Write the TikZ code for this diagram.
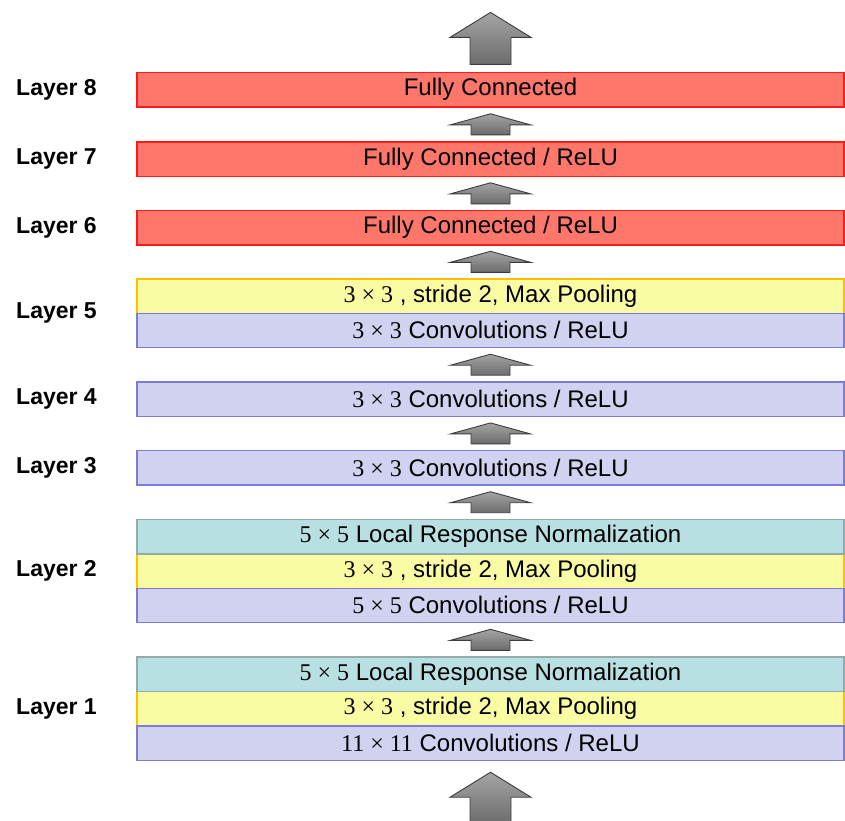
\documentclass[tikz,border=0pt]{standalone}
\usepackage{fontspec}
\setmainfont{Liberation Sans}
\newfontfamily\dimfont{Liberation Serif}
\usetikzlibrary{positioning,calc}

\definecolor{fcfill}{HTML}{FF766A}
\definecolor{fcline}{HTML}{FF1A1A}
\definecolor{poolfill}{HTML}{FAFCA4}
\definecolor{poolline}{HTML}{FFC000}
\definecolor{convfill}{HTML}{D0D2F0}
\definecolor{convline}{HTML}{7B7BD8}
\definecolor{normfill}{HTML}{B8E0E3}
\definecolor{normline}{HTML}{94ABAB}
\definecolor{arrowtop}{HTML}{A4A4A4}
\definecolor{arrowbot}{HTML}{6C6C6C}
\definecolor{arrowline}{HTML}{3C3C3C}

\newcommand{\dims}[1]{{\dimfont #1}}

\tikzset{
  layerbox/.style={draw, line width=1.4pt, minimum width=707pt, minimum height=34.4pt,
    inner sep=0pt, outer sep=0pt, font=\fontsize{24}{26}\selectfont},
  fcbox/.style={layerbox, draw=fcline, fill=fcfill},
  poolbox/.style={layerbox, draw=poolline, fill=poolfill},
  convbox/.style={layerbox, draw=convline, fill=convfill},
  normbox/.style={layerbox, draw=normline, fill=normfill},
  layerlabel/.style={font=\bfseries\fontsize{23}{25}\selectfont, inner sep=0pt},
  blockarrow/.style={draw=arrowline, line width=0.9pt, top color=arrowtop,
    bottom color=arrowbot, line join=miter},
  pics/smallarrow/.style={code={
    \path[blockarrow] (-19.5,10.5) -- (-19.5,0.5) -- (-40,0.5) -- (0,-10.5)
      -- (40,0.5) -- (19.5,0.5) -- (19.5,10.5) -- cycle;}},
  pics/bigarrow/.style={code={
    \path[blockarrow] (-20.5,0) -- (-20.5,-27) -- (-40.5,-27) -- (0,-52)
      -- (40.5,-27) -- (20.5,-27) -- (20.5,0) -- cycle;}},
}

\begin{document}
\begin{tikzpicture}[x=1pt,y=-1pt]
  \path[use as bounding box, clip] (0,0) rectangle (845,820);

  % Layer 1
  \node[poolbox] (l1y) at (490.5,708.6) {\dims{3 × 3} , stride 2, Max Pooling};
  \node[convbox, below=0pt of l1y] (l1b) {\dims{11 × 11} Convolutions / ReLU};
  \node[normbox, above=0pt of l1y] (l1t) {\dims{5 × 5} Local Response Normalization};

  % Layer 2
  \node[poolbox] (l2y) at (490.5,571) {\dims{3 × 3} , stride 2, Max Pooling};
  \node[convbox, below=0pt of l2y] (l2b) {\dims{5 × 5} Convolutions / ReLU};
  \node[normbox, above=0pt of l2y] (l2t) {\dims{5 × 5} Local Response Normalization};

  % Layers 3 and 4
  \node[convbox] (l3) at (490.5,467.8) {\dims{3 × 3} Convolutions / ReLU};
  \node[convbox] (l4) at (490.5,399) {\dims{3 × 3} Convolutions / ReLU};

  % Layer 5
  \node[poolbox] (l5y) at (490.5,296) {\dims{3 × 3} , stride 2, Max Pooling};
  \node[convbox, below=0pt of l5y] (l5b) {\dims{3 × 3} Convolutions / ReLU};

  % Layers 6 to 8
  \node[fcbox] (l6) at (490.5,227.6) {Fully Connected / ReLU};
  \node[fcbox] (l7) at (490.5,159) {Fully Connected / ReLU};
  \node[fcbox] (l8) at (490.5,89.6) {Fully Connected};

  % Labels
  \coordinate (g1) at (l1y.west);
  \coordinate (g2) at (l2y.west);
  \coordinate (g5) at ($(l5y.west)!0.5!(l5b.west)$);
  \node[layerlabel, left=40pt of g1] (lab1) {Layer 1};
  \node[layerlabel, left=40pt of g2] (lab2) {Layer 2};
  \node[layerlabel, left=40pt of l3] (lab3) {Layer 3};
  \node[layerlabel, left=40pt of l4] (lab4) {Layer 4};
  \node[layerlabel, left=40pt of g5] (lab5) {Layer 5};
  \node[layerlabel, left=40pt of l6] (lab6) {Layer 6};
  \node[layerlabel, left=40pt of l7] (lab7) {Layer 7};
  \node[layerlabel, left=40pt of l8] (lab8) {Layer 8};

  % Arrows between layers
  \pic at ($(l1t.north)!0.5!(l2b.south)$) {smallarrow};
  \pic at ($(l2t.north)!0.5!(l3.south)$) {smallarrow};
  \pic at ($(l3.north)!0.5!(l4.south)$) {smallarrow};
  \pic at ($(l4.north)!0.5!(l5b.south)$) {smallarrow};
  \pic at ($(l5y.north)!0.5!(l6.south)$) {smallarrow};
  \pic at ($(l6.north)!0.5!(l7.south)$) {smallarrow};
  \pic at ($(l7.north)!0.5!(l8.south)$) {smallarrow};

  % Input and output arrows
  \pic at ($(l8.north)+(0,-8)$) {bigarrow};
  \pic at ($(l1b.south)+(0,64)$) {bigarrow};
\end{tikzpicture}
\end{document}
